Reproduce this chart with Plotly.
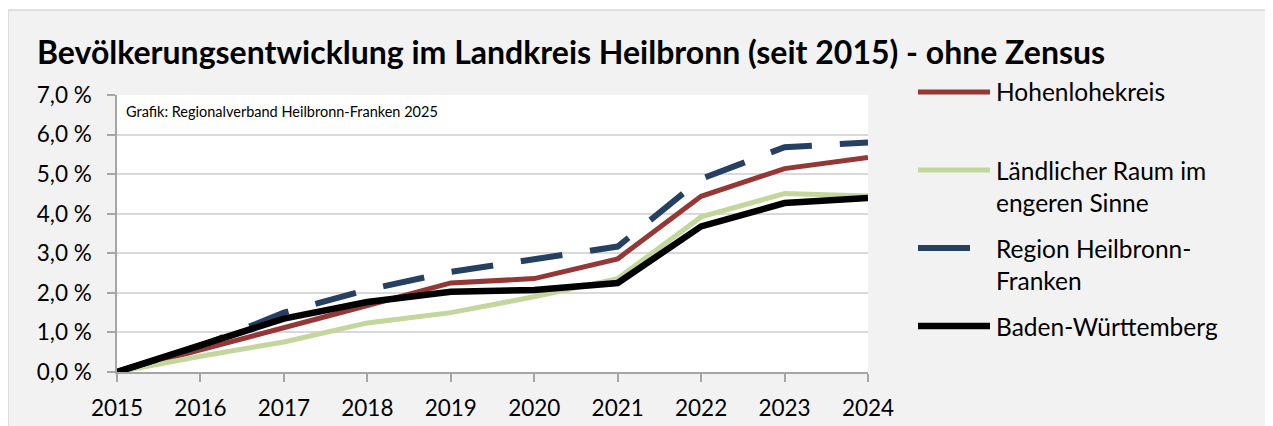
import plotly.graph_objects as go

W, H = 1273, 426
# the html body adds an 8px margin, so the figure is shrunk and shifted by that much
PAGE_MARGIN = 8

years = [2015, 2016, 2017, 2018, 2019, 2020, 2021, 2022, 2023, 2024]

hohenlohe = [0.0, 0.55, 1.10, 1.68, 2.25, 2.36, 2.86, 4.44, 5.14, 5.42]
laendlich = [0.0, 0.40, 0.76, 1.24, 1.50, 1.90, 2.36, 3.92, 4.51, 4.45]
region_hnf = [0.0, 0.65, 1.50, 2.08, 2.53, 2.84, 3.17, 4.88, 5.68, 5.80]
bawue = [0.0, 0.68, 1.35, 1.77, 2.03, 2.07, 2.25, 3.68, 4.27, 4.40]

series_names = ["Hohenlohekreis", "Ländlicher Raum im<br>engeren Sinne",
                "Region Heilbronn-<br>Franken", "Baden-Württemberg"]
series_values = [hohenlohe, laendlich, region_hnf, bawue]
series_colors = ["#953735", "#c3d69b", "#254061", "#000000"]
series_widths = [5, 5, 6, 6.5]
series_dash = ["solid", "solid", "42px,28px", "solid"]

y_ticks = [0, 1, 2, 3, 4, 5, 6, 7]
y_tick_labels = ["0,0 %", "1,0 %", "2,0 %", "3,0 %", "4,0 %", "5,0 %", "6,0 %", "7,0 %"]

title_text = "Bevölkerungsentwicklung im Landkreis Heilbronn (seit 2015) - ohne Zensus"
source_text = "Grafik: Regionalverband Heilbronn-Franken 2025"

FONT = "Lato"
FW, FH = W - PAGE_MARGIN, H - PAGE_MARGIN


def px_x(v):
    return (v - PAGE_MARGIN) / FW


def px_y(v):
    return 1 - (v - PAGE_MARGIN) / FH


fig = go.Figure()
for name, vals, col, wd, dash in zip(series_names, series_values, series_colors,
                                     series_widths, series_dash):
    fig.add_trace(go.Scatter(
        x=years, y=vals, mode="lines", name=name.replace("<br>", " "),
        line=dict(color=col, width=wd, dash=dash),
        showlegend=False,
    ))

# frame: white strip above the grey chart area + thin border
shapes = [
    dict(type="rect", xref="paper", yref="paper", x0=0, x1=1, y0=px_y(10), y1=1,
         fillcolor="white", line=dict(width=0), layer="below"),
    dict(type="rect", xref="paper", yref="paper", x0=0, x1=1.02, y0=-0.02, y1=px_y(10),
         fillcolor="rgba(0,0,0,0)", line=dict(color="#d9d9d9", width=1.5), layer="below"),
]

annotations = [
    dict(text="<b>" + title_text + "</b>", xref="paper", yref="paper",
         x=px_x(35), y=px_y(51), xanchor="left", yanchor="middle", showarrow=False,
         font=dict(family=FONT, size=32, color="black")),
    dict(text=source_text, xref="paper", yref="paper",
         x=px_x(124), y=px_y(112), xanchor="left", yanchor="middle", showarrow=False,
         font=dict(family=FONT, size=14.5, color="black")),
]

# legend drawn by hand (Excel style: long sample line, wrapped labels)
legend_rows = [92, 170, 248, 326]
for name, col, wd, dash, row in zip(series_names, series_colors, series_widths,
                                    series_dash, legend_rows):
    x_end = 970 if dash != "solid" else 990
    shapes.append(dict(type="line", xref="paper", yref="paper",
                       x0=px_x(918), x1=px_x(x_end), y0=px_y(row), y1=px_y(row),
                       line=dict(color=col, width=wd)))
    for k, part in enumerate(name.split("<br>")):
        annotations.append(dict(text=part, xref="paper", yref="paper",
                                x=px_x(994), y=px_y(row + k * 32), xanchor="left",
                                yanchor="middle", showarrow=False,
                                font=dict(family=FONT, size=24.5, color="black")))

fig.update_layout(
    width=FW, height=FH,
    margin=dict(l=0, r=0, t=0, b=0),
    paper_bgcolor="#f2f2f2",
    plot_bgcolor="white",
    font=dict(family=FONT, size=22.5, color="black"),
    showlegend=False,
    shapes=shapes,
    annotations=annotations,
    xaxis=dict(
        domain=[px_x(117), px_x(868)],
        range=[2015, 2024], tickvals=years, ticktext=[str(y) for y in years],
        showgrid=False, zeroline=False,
        showline=True, linecolor="#a6a6a6", linewidth=1.5,
        ticks="outside", ticklen=8, tickwidth=1.5, tickcolor="#a6a6a6",
        ticklabelstandoff=7,
        tickfont=dict(family=FONT, size=22.5, color="black"),
        automargin=False,
    ),
    yaxis=dict(
        domain=[px_y(372), px_y(95)],
        range=[0, 7], tickvals=y_ticks, ticktext=y_tick_labels,
        showgrid=True, gridcolor="#d9d9d9", gridwidth=1.5, zeroline=False,
        showline=True, linecolor="#a6a6a6", linewidth=1.5,
        ticks="outside", ticklen=8, tickwidth=1.5, tickcolor="#a6a6a6",
        ticklabelstandoff=11,
        tickfont=dict(family=FONT, size=22.5, color="black"),
        automargin=False,
    ),
)

fig.write_html("out.html")
